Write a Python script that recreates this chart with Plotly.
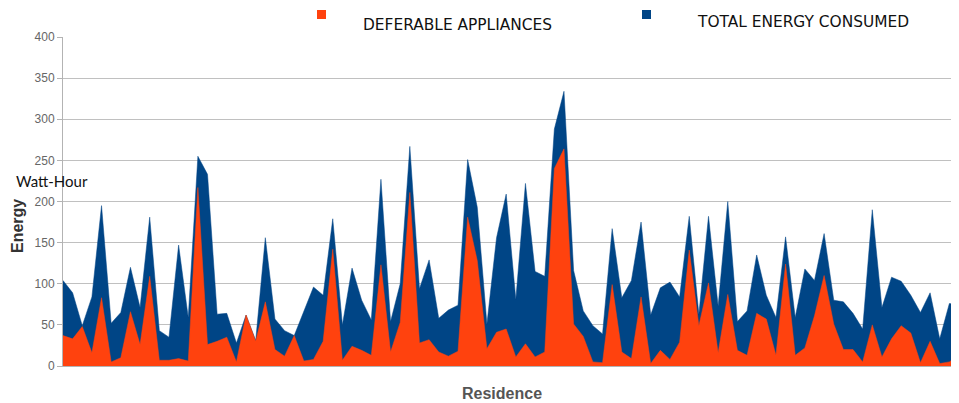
import plotly.graph_objects as go

# energy per residence (Watt-Hour)
residence = list(range(94))
total_energy = [
    104, 89, 49, 84, 195, 52, 65, 120, 71, 181,
    43, 35, 147, 59, 255, 233, 63, 64, 28, 62,
    31, 156, 57, 43, 37, 66, 96, 86, 179, 50,
    119, 80, 56, 227, 54, 100, 267, 94, 129, 58,
    68, 74, 251, 193, 51, 156, 209, 81, 222, 115,
    109, 288, 334, 116, 67, 49, 39, 167, 83, 104,
    175, 62, 95, 102, 84, 182, 63, 182, 73, 200,
    54, 67, 135, 86, 59, 157, 59, 118, 104, 161,
    80, 78, 64, 45, 190, 71, 108, 103, 86, 65,
    89, 33, 76, 75,
]
deferable = [
    37, 33, 48, 16, 83, 5, 10, 66, 26, 109,
    7, 7, 9, 6, 217, 26, 30, 35, 5, 62,
    30, 78, 20, 12, 37, 6, 8, 30, 142, 7,
    24, 19, 13, 123, 17, 53, 211, 28, 32, 17,
    12, 18, 181, 128, 21, 41, 45, 11, 27, 11,
    17, 240, 264, 51, 36, 5, 4, 99, 17, 9,
    84, 3, 19, 8, 29, 141, 49, 101, 16, 87,
    19, 13, 64, 57, 13, 124, 13, 22, 61, 110,
    51, 20, 20, 5, 50, 11, 33, 49, 40, 4,
    30, 3, 5, 14,
]
y_ticks = [0, 50, 100, 150, 200, 250, 300, 350, 400]

BLUE = "#004586"
ORANGE = "#ff420e"

# the page body has an 8px margin, so the figure is 8px smaller
OFF = 8
W, H = 959 - OFF, 403 - OFF
# plot area in window pixels: x 63..959, y 37..366
L, R, T, B = 63 - OFF, 0, 37 - OFF, 403 - 366


def px_x(x):
    # window pixel -> paper x
    return (x - OFF - L) / (W - L - R)


def px_y(y):
    # window pixel -> paper y
    return (H - B - (y - OFF)) / (H - T - B)


def label(text, x, y, font, xanchor="center", angle=0):
    fig.add_annotation(text=text, xref="paper", yref="paper",
                       x=px_x(x), y=px_y(y), xanchor=xanchor, yanchor="middle",
                       textangle=angle, showarrow=False, font=font)


fig = go.Figure()
fig.add_trace(go.Scatter(
    x=residence, y=total_energy, name="TOTAL ENERGY CONSUMED",
    mode="lines", fill="tozeroy", fillcolor=BLUE,
    line=dict(color=BLUE, width=0.5),
))
fig.add_trace(go.Scatter(
    x=residence, y=deferable, name="DEFERABLE APPLIANCES",
    mode="lines", fill="tozeroy", fillcolor=ORANGE,
    line=dict(color=ORANGE, width=0.5),
))

fig.update_layout(
    width=W, height=H,
    margin=dict(l=L, r=R, t=T, b=B, autoexpand=False),
    paper_bgcolor="white", plot_bgcolor="white",
    showlegend=False,
    font=dict(family="Liberation Sans, Arial, sans-serif", size=12, color="#666"),
)
fig.update_xaxes(
    range=[0, 93], showgrid=False, showticklabels=False, ticks="",
    zeroline=False, showline=True, linecolor="#b3b3b3", linewidth=1,
)
fig.update_yaxes(
    range=[0, 400], tickvals=y_ticks, showgrid=True, gridcolor="#c0c0c0",
    gridwidth=1, zeroline=False, showline=True, linecolor="#b3b3b3",
    ticks="outside", ticklen=5, tickcolor="#b3b3b3",
    tickfont=dict(size=12, color="#666"),
)

# legend squares, drawn by hand like the original
fig.add_shape(type="rect", xref="paper", yref="paper",
              x0=px_x(317), x1=px_x(326), y0=px_y(19), y1=px_y(10),
              fillcolor=ORANGE, line=dict(width=0))
fig.add_shape(type="rect", xref="paper", yref="paper",
              x0=px_x(642), x1=px_x(651), y0=px_y(19), y1=px_y(10),
              fillcolor=BLUE, line=dict(width=0))

legend_font = dict(family="DejaVu Sans", size=15.4, color="#111")
label("DEFERABLE APPLIANCES", 457.5, 25, legend_font)
label("TOTAL ENERGY CONSUMED", 802.5, 22, legend_font)

label("Watt-Hour", 14, 181, dict(family="Lato", size=15, color="#111"),
      xanchor="left")
label("<b>Energy</b>", 17, 226,
      dict(family="Liberation Sans", size=16, color="#333"), angle=-90)
label("<b>Residence</b>", 502, 394,
      dict(family="Liberation Sans", size=16, color="#555"))

fig.write_html("out.html")
